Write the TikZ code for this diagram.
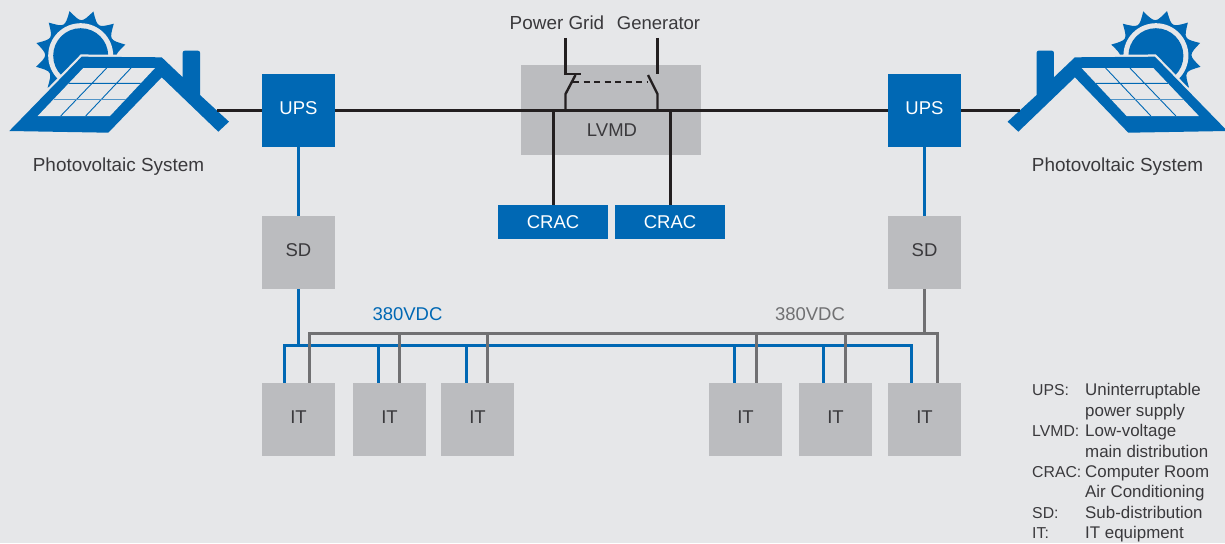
\documentclass[tikz,border=0pt]{standalone}
\usepackage{xcolor}
\usepackage{fontspec}
\setmainfont{Liberation Sans}
\usetikzlibrary{positioning,calc}
\definecolor{pvblue}{RGB}{0,104,180}
\definecolor{boxgrey}{RGB}{187,188,191}
\definecolor{pagegrey}{RGB}{230,231,233}
\definecolor{wiregrey}{RGB}{112,112,114}
\definecolor{inktext}{RGB}{58,57,60}
\definecolor{wireblack}{RGB}{35,31,32}
\newcommand{\legkey}[1]{\makebox[53pt][l]{\fontsize{15.8}{20.4}\selectfont #1}}
\tikzset{
    label18/.style={font=\fontsize{18.5}{22}\selectfont, text=inktext, inner sep=0pt},
    upsbox/.style={rectangle, fill=pvblue, minimum size=73pt, inner sep=0pt, text=white, text height=8.6pt, text depth=0pt, font=\fontsize{18.5}{22}\selectfont},
    greybox/.style={rectangle, fill=boxgrey, minimum size=73pt, inner sep=0pt, text=inktext, text height=8.6pt, text depth=0pt, font=\fontsize{18.5}{22}\selectfont},
    cracbox/.style={rectangle, fill=pvblue, minimum width=110pt, minimum height=34pt, inner sep=0pt, text=white, font=\fontsize{18.5}{22}\selectfont},
    blackwire/.style={draw=wireblack, line width=3pt},
    bluewire/.style={draw=pvblue, line width=3pt},
    greywire/.style={draw=wiregrey, line width=3pt},
    pvhouse/.pic={
        \begin{scope}[shift={(80.7,55.7)}]
            \fill[pvblue] (14:46pt) \foreach \k in {0,...,11}{
                .. controls ({14+30*\k+15}:32.6pt) .. ({14+30*(\k+1)}:46pt)} -- cycle;
            \fill[pagegrey] (0,0) circle (32.5pt);
            \fill[pvblue] (0,0) circle (27.5pt);
        \end{scope}
        \path[fill=pvblue, preaction={draw=pagegrey, line width=4.5pt}]
            (9.3,131) -- (81.7,56.7) -- (161.7,57.3) -- (182.7,77.3)
            [rounded corners=2pt] -- (182.7,50.7) -- (200,50.7) [sharp corners] -- (200,95)
            -- (229,121.7) -- (218.3,131.7) -- (161.7,77.3) -- (108.3,132.7) -- cycle;
        \fill[pagegrey] (37.7,116) -- (83.3,68) -- (155,68) -- (110,116) -- cycle;
        \draw[pvblue, line width=0.9pt] (106.7,68) -- (60.7,116) (131,68) -- (85.7,116) (68.7,83.3) -- (140.7,83.3);
        \draw[pvblue!65!pagegrey, line width=1.3pt] (53.5,99.3) -- (125.6,99.3);
    }
}

\begin{document}
\begin{tikzpicture}[x=1pt,y=-1pt]
        \useasboundingbox (0,0) rectangle (1225,543);
        \fill[pagegrey] (0,0) rectangle (1225,543);

        \pic at (0,0) {pvhouse};
        \pic[xscale=-1] at (1236.6,0) {pvhouse};
        \coordinate (roofL) at (217,110.5);
        \coordinate (roofR) at (1020,110.5);

        \node[rectangle, fill=boxgrey, minimum width=180pt, minimum height=90pt, inner sep=0pt] (lvmdBox) at (611,110) {};
        \node[label18, text=inktext] (lvmdText) at (612,130) {LVMD};

        \node[upsbox] (upsL) at (298.5,110.5) {UPS};
        \node[upsbox] (upsR) at (924.5,110.5) {UPS};
        \node[greybox] (sdL) at (298.5,252.5) {SD};
        \node[greybox] (sdR) at (924.5,252.5) {SD};
        \node[cracbox] (cracL) at (553,222) {CRAC};
        \node[cracbox] (cracR) at (670,222) {CRAC};

        \foreach \name/\cx in {itA/298.5,itB/389.5,itC/477.5,itD/745.5,itE/835.5,itF/924.5}
            \node[greybox] (\name) at (\cx,419.5) {IT};

        \node[label18, font=\fontsize{18.9}{22}\selectfont] (pvL) at (118.5,166.5) {Photovoltaic System};
        \node[label18, font=\fontsize{18.9}{22}\selectfont] (pvR) at (1117.5,166.5) {Photovoltaic System};
        \node[label18, font=\fontsize{18.9}{22}\selectfont] (gridText) at (557,23) {Power Grid};
        \node[label18] (genText) at (658.5,23) {Generator};
        \node[label18, text=pvblue] (vdcBlue) at (407.5,314) {380VDC};
        \node[label18, text=wiregrey] (vdcGrey) at (810,314) {380VDC};

        \draw[blackwire] (roofL) -- (upsL.west);
        \draw[blackwire] (upsL.east) -- (upsR.west);
        \draw[blackwire] (upsR.east) -- (roofR);
        \draw[blackwire] (553.5,110.5) -- (553.5,110.5 |- cracL.north);
        \draw[blackwire] (670,110.5) -- (670,110.5 |- cracR.north);

        \coordinate (gridIn) at (565.5,38);
        \coordinate (genIn) at (657.5,38);
        \draw[blackwire, line width=2.4pt] (gridIn) -- (565.5,74) -- (581,74);
        \draw[blackwire, line width=2.4pt] (genIn) -- (657.5,74);
        \draw[blackwire, line width=2.4pt] (565.5,110) -- (565.5,94) -- (575.5,75);
        \draw[blackwire, line width=2.4pt] (657.5,110) -- (657.5,94) -- (648,75);
        \draw[blackwire, line width=2.4pt, dash pattern=on 6pt off 4.5pt] (573,82) -- (647,82);

        \draw[bluewire] (upsL.south) -- (sdL.north);
        \draw[bluewire] (upsR.south) -- (sdR.north);
        \draw[bluewire] (sdL.south) -- (298.5,345);
        \draw[greywire] (sdR.south) -- (924.5,333);

        \draw[bluewire, line cap=rect] (284,345) -- (911,345);
        \foreach \name/\bx in {itA/284,itB/378.5,itC/466,itD/734,itE/823,itF/911}
            \draw[bluewire] (\bx,345) -- (\bx,345 |- \name.north);
        \draw[greywire, line cap=rect] (309.5,333) -- (937,333);
        \foreach \name/\gx in {itA/309.5,itB/399.5,itC/487.5,itD/756,itE/845,itF/937}
            \draw[greywire] (\gx,333) -- (\gx,333 |- \name.north);

        \node[anchor=north west, inner sep=0pt, align=left, text=inktext,
              font=\fontsize{16.9}{20.4}\selectfont] (legend) at (1032,383.4) {
            \legkey{UPS:}Uninterruptable\\
            \legkey{}power supply\\
            \legkey{LVMD:}Low-voltage\\
            \legkey{}main distribution\\
            \legkey{CRAC:}Computer Room\\
            \legkey{}Air Conditioning\\
            \legkey{SD:}Sub-distribution\\
            \legkey{IT:}IT equipment
        };
    \end{tikzpicture}
\end{document}
